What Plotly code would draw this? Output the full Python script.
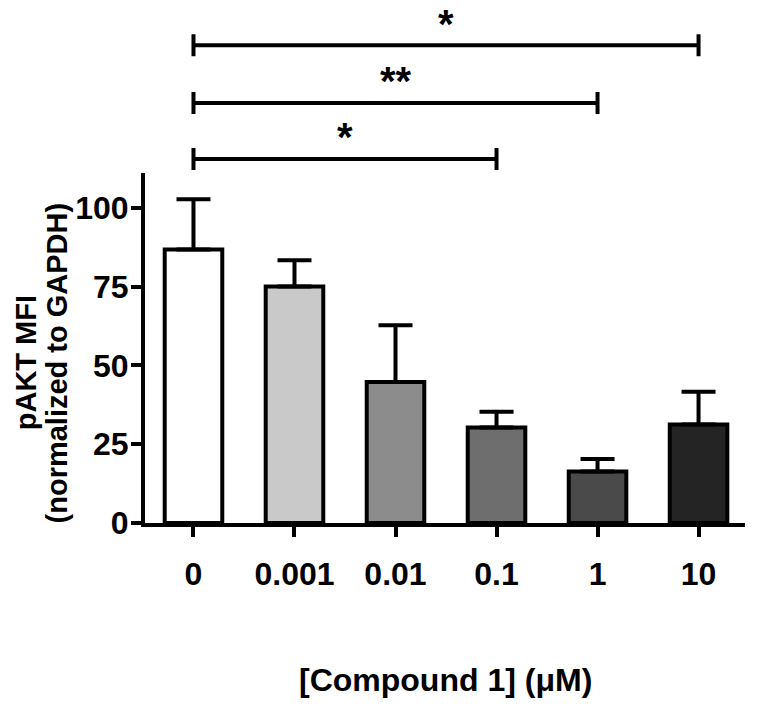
import plotly.graph_objects as go

# ---- data ----
categories = ["0", "0.001", "0.01", "0.1", "1", "10"]
means = [86.7, 75.0, 44.7, 30.3, 16.3, 31.2]
sem_up = [16.0, 8.3, 18.0, 5.0, 4.0, 10.4]
bar_colors = ["#ffffff", "#c9c9c9", "#8c8c8c", "#6e6e6e", "#4a4a4a", "#242424"]
y_tick_vals = [0, 25, 50, 75, 100]
y_tick_text = ["0", "25", "50", "75", "100"]
# significance brackets: (from category, to category, label)
comparisons = [("0", "0.1", "*"), ("0", "1", "**"), ("0", "10", "*")]

FONT = "Liberation Sans, Arial, sans-serif"

fig = go.Figure()
fig.add_trace(go.Bar(
    x=categories,
    y=means,
    width=0.57,
    marker=dict(color=bar_colors, line=dict(color="black", width=4)),
    error_y=dict(type="data", array=sem_up, arrayminus=[0] * len(sem_up),
                 symmetric=False, color="black", thickness=4, width=17),
    showlegend=False,
))

# bracket levels (paper coords above the plot area)
levels = [1.040, 1.200, 1.365]
star_offset = 0.062
tick_half = 0.0314
idx = {c: i for i, c in enumerate(categories)}
shapes = []
annotations = []
for (a, b, lab), lv in zip(comparisons, levels):
    xa, xb = idx[a], idx[b]
    line = dict(color="black", width=4)
    shapes.append(dict(type="line", xref="x", yref="paper", x0=xa, x1=xb, y0=lv, y1=lv, line=line))
    shapes.append(dict(type="line", xref="x", yref="paper", x0=xa, x1=xa, y0=lv - tick_half, y1=lv + tick_half, line=line))
    shapes.append(dict(type="line", xref="x", yref="paper", x0=xb, x1=xb, y0=lv - tick_half, y1=lv + tick_half, line=line))
    annotations.append(dict(x=(xa + xb) / 2, y=lv + star_offset, xref="x", yref="paper", text=lab,
                            showarrow=False, yanchor="middle",
                            font=dict(family=FONT, size=40, color="black", weight="bold")))

title_font = dict(family=FONT, size=29, color="black", weight="bold")
annotations.append(dict(x=-0.198, y=0.457, xref="paper", yref="paper", text="pAKT MFI",
                        textangle=-90, showarrow=False, xanchor="center", yanchor="middle",
                        font=title_font))
annotations.append(dict(x=-0.146, y=0.457, xref="paper", yref="paper", text="(normalized to GAPDH)",
                        textangle=-90, showarrow=False, xanchor="center", yanchor="middle",
                        font=title_font))
annotations.append(dict(x=0.5, y=-0.449, xref="paper", yref="paper", text="[Compound 1] (μM)",
                        showarrow=False, xanchor="center", yanchor="middle",
                        font=dict(family=FONT, size=32, color="black", weight="bold")))

fig.update_layout(
    width=764, height=705,
    margin=dict(l=137, r=27, t=165, b=190),
    paper_bgcolor="white", plot_bgcolor="white",
    shapes=shapes,
    annotations=annotations,
    xaxis=dict(
        type="category", range=[-0.48, 5.46],
        showline=True, linecolor="black", linewidth=4,
        ticks="outside", ticklen=10, tickwidth=4, tickcolor="black",
        ticklabelstandoff=10,
        tickfont=dict(family=FONT, size=32, color="black", weight="bold"),
        showgrid=False, zeroline=False,
    ),
    yaxis=dict(
        range=[0, 111],
        tickvals=y_tick_vals, ticktext=y_tick_text,
        showline=True, linecolor="black", linewidth=4,
        ticks="outside", ticklen=10, tickwidth=4, tickcolor="black",
        ticklabelstandoff=-4,
        tickfont=dict(family=FONT, size=32, color="black", weight="bold"),
        showgrid=False, zeroline=False,
    ),
)

fig.write_html("out.html")
